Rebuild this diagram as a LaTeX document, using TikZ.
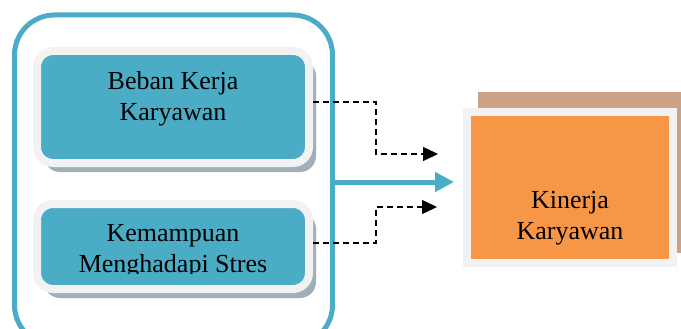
\documentclass[tikz,border=0pt]{standalone}
\usepackage{fontspec}
\setmainfont{Liberation Serif}
\usepackage{tikz}
\usetikzlibrary{positioning,arrows.meta,shadows,calc}
\definecolor{aquablue}{HTML}{4BACC6}
\definecolor{rimgray}{HTML}{F2F2F2}
\definecolor{shadegray}{HTML}{9FB0B8}
\definecolor{kinerjaorange}{HTML}{F79646}
\definecolor{backbrown}{HTML}{CBA285}
\tikzset{
  varbox/.style={rectangle, rounded corners=16pt, fill=aquablue, draw=rimgray, line width=8pt,
    drop shadow={shadow xshift=7pt, shadow yshift=-9pt, fill=shadegray, opacity=1}},
  boxtext/.style={align=center, font=\fontsize{26}{31}\selectfont, inner sep=0pt},
  dashline/.style={dashed, dash pattern=on 6pt off 4pt, line width=1.4pt, -{Triangle[length=15pt,width=14pt]}}
}

\begin{document}
\begin{tikzpicture}[x=1pt,y=-1pt]
  \useasboundingbox (0,0) rectangle (681,329);
  % left group frame
  \node[draw=aquablue, line width=5pt, rounded corners=40pt, minimum width=318pt, minimum height=330pt] (group) at (173.5,180) {};
  % independent variables
  \node[varbox, minimum width=272pt, minimum height=112pt] (beban) at (173,107) {};
  \node[boxtext] (bebanTxt) at ([yshift=8pt]beban.center) {Beban Kerja\\Karyawan};
  \node[varbox, minimum width=272pt, minimum height=85pt] (stres) at (173,246.5) {};
  \begin{scope}
    \clip (0,0) rectangle (681,273);
    \node[boxtext] (stresTxt) at ([yshift=-5pt]stres.center) {Kemampuan\\Menghadapi Stres};
  \end{scope}
  % dependent variable
  \fill[backbrown] (478,92) rectangle (681,253);
  \node[rectangle, fill=kinerjaorange, draw=rimgray, line width=8pt, minimum width=206pt, minimum height=151pt] (kinerja) at (570,187.5) {};
  \node[boxtext] (kinerjaTxt) at ([yshift=-31pt]kinerja.center) {Kinerja\\Karyawan};
  % connectors
  \coordinate (tipA) at (438,154);
  \coordinate (turnA) at (376,154);
  \coordinate (tipB) at (437,207);
  \coordinate (turnB) at (376,207);
  \coordinate (blueTip) at (454,182);
  \draw[dashline] ([yshift=5pt]beban.east) -| (turnA) -- (tipA);
  \draw[dashline] ([yshift=3.5pt]stres.east) -| (turnB) -- (tipB);
  \draw[aquablue, line width=5pt, -{Triangle[length=19pt,width=19pt]}] (group.east |- blueTip) -- (blueTip);
\end{tikzpicture}
\end{document}
